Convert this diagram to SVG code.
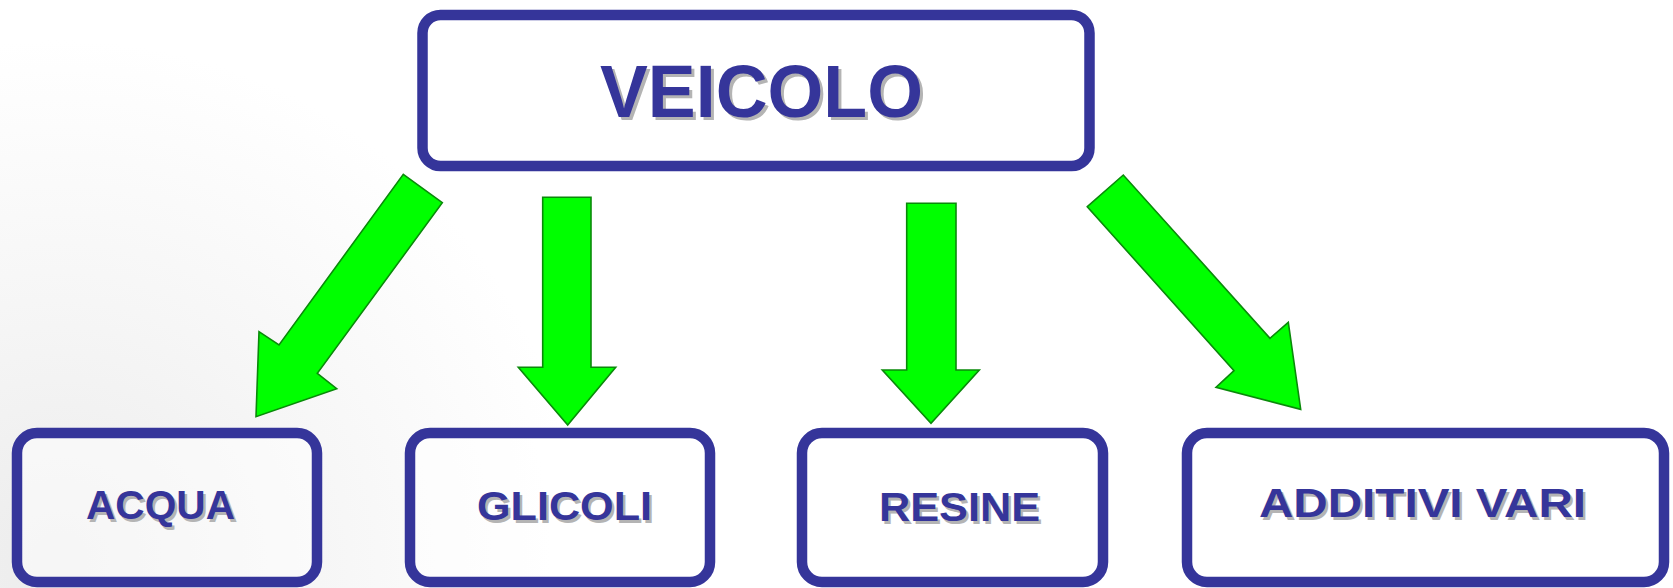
<svg xmlns="http://www.w3.org/2000/svg" width="1673" height="588" viewBox="0 0 1673 588">
<defs>
<radialGradient id="bg" cx="60" cy="560" r="520" gradientUnits="userSpaceOnUse">
<stop offset="0" stop-color="#ececec"/>
<stop offset="0.5" stop-color="#f6f6f6"/>
<stop offset="1" stop-color="#ffffff"/>
</radialGradient>
</defs>
<style>
.box{fill:none;stroke:#35359a;stroke-width:10.5}
.boxfill{fill:#ffffff;fill-opacity:0.5;stroke:#35359a;stroke-width:10.5}
.arrow{fill:#00ff00;stroke:#0a8a0a;stroke-width:1.6;stroke-linejoin:miter}
.lbl{font-family:"Liberation Sans",Arial,sans-serif;font-weight:bold;font-size:41px;fill:#35359a}
.sh{font-family:"Liberation Sans",Arial,sans-serif;font-weight:bold;font-size:41px;fill:#b4b4b4}
.big{font-family:"Liberation Sans Narrow","Liberation Sans",Arial,sans-serif;font-weight:bold;font-size:74px;fill:#35359a}
.bigsh{font-family:"Liberation Sans Narrow","Liberation Sans",Arial,sans-serif;font-weight:bold;font-size:74px;fill:#b4b4b4}
</style>
<rect x="0" y="0" width="1673" height="588" fill="url(#bg)"/>
<g id="connectors">
<polygon class="arrow" points="403.3,174.3 442.3,202.7 317.3,373.3 336.7,388.7 256,416.7 259,331.7 279,345"/>
<polygon class="arrow" points="542.7,197.3 591,197.3 591,367.3 615.7,367.3 567.7,425 518.3,367.3 542.7,367.3"/>
<polygon class="arrow" points="906.7,203.3 956,203.3 956,370 979.3,370 931,423.3 882.3,370 906.7,370"/>
<polygon class="arrow" points="1087.3,206.7 1123.3,175 1270,338.3 1288.3,322.3 1300.7,409.3 1216,387.3 1234,370.7"/>
</g>
<g id="veicolo">
<rect class="box" x="422.5" y="15" width="667" height="151" rx="18" fill="#ffffff"/>
<text class="bigsh" x="603" y="120" textLength="323" lengthAdjust="spacingAndGlyphs">VEICOLO</text>
<text class="big" x="600" y="117" textLength="323" lengthAdjust="spacingAndGlyphs">VEICOLO</text>
</g>
<g id="acqua">
<rect class="boxfill" x="17" y="433" width="300" height="149" rx="20"/>
<text class="sh" x="88.5" y="521.5" textLength="149" lengthAdjust="spacingAndGlyphs">ACQUA</text>
<text class="lbl" x="86" y="519" textLength="149" lengthAdjust="spacingAndGlyphs">ACQUA</text>
</g>
<g id="glicoli">
<rect class="boxfill" x="410" y="433" width="300" height="149" rx="20"/>
<text class="sh" x="479.5" y="522.5" textLength="175" lengthAdjust="spacingAndGlyphs">GLICOLI</text>
<text class="lbl" x="477" y="520" textLength="175" lengthAdjust="spacingAndGlyphs">GLICOLI</text>
</g>
<g id="resine">
<rect class="boxfill" x="802" y="433" width="301" height="149" rx="20"/>
<text class="sh" x="881.5" y="523.5" textLength="161" lengthAdjust="spacingAndGlyphs">RESINE</text>
<text class="lbl" x="879" y="521" textLength="161" lengthAdjust="spacingAndGlyphs">RESINE</text>
</g>
<g id="additivi">
<rect class="boxfill" x="1187" y="433" width="477" height="149" rx="20"/>
<text class="sh" x="1261.5" y="519.5" textLength="327" lengthAdjust="spacingAndGlyphs">ADDITIVI VARI</text>
<text class="lbl" x="1259" y="517" textLength="327" lengthAdjust="spacingAndGlyphs">ADDITIVI VARI</text>
</g>
</svg>
